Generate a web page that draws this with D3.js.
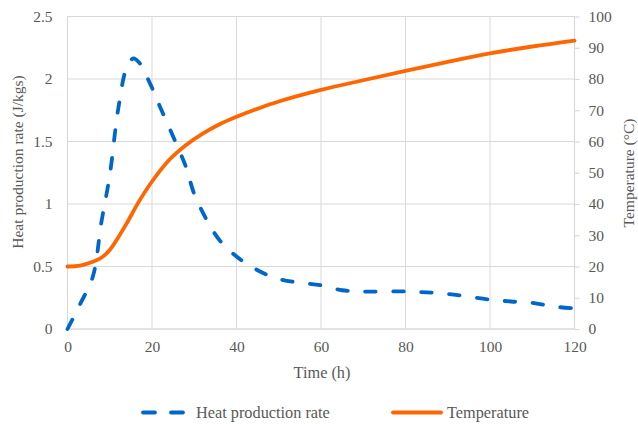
<!DOCTYPE html>
<html><head><meta charset="utf-8">
<script src="https://cdn.jsdelivr.net/npm/d3@7"></script>
<style>body{margin:0;background:#fff}svg{display:block}text{font-family:"Liberation Serif","Times New Roman",serif}</style>
</head><body>
<svg id="c" width="638" height="424"></svg>
<script>
const heatTime = [0, 3, 6, 8, 10, 12, 14, 15.6, 17, 18, 20, 22, 25, 28, 30, 33, 36, 40, 45, 50, 55, 60, 65, 70, 80, 90, 100, 105, 110, 115, 120];
const heatRate = [0, 0.2, 0.42, 0.85, 1.23, 1.76, 2.09, 2.165, 2.13, 2.07, 1.93, 1.77, 1.54, 1.30, 1.08, 0.87, 0.71, 0.58, 0.47, 0.40, 0.37, 0.35, 0.31, 0.30, 0.30, 0.28, 0.235, 0.22, 0.21, 0.18, 0.165];
const tempTime = [0, 3, 6, 8, 10, 12, 14, 17, 20, 24, 28, 32, 36, 40, 45, 50, 60, 70, 80, 90, 100, 110, 120];
const temperature = [20, 20.3, 21.5, 22.8, 25.3, 29.3, 33.8, 41, 47.2, 54, 58.8, 62.5, 65.5, 67.9, 70.5, 72.8, 76.5, 79.6, 82.6, 85.5, 88.2, 90.4, 92.3];
const xTicks = [0, 20, 40, 60, 80, 100, 120];
const yLeftTicks = [0, 0.5, 1, 1.5, 2, 2.5];
const yRightTicks = [0, 10, 20, 30, 40, 50, 60, 70, 80, 90, 100];
const seriesNames = ["Heat production rate", "Temperature"];

const svg = d3.select("#c");
const L = 67.5, R = 574.5, T = 16.5, B = 329;
const x = d3.scaleLinear().domain([0, 120]).range([L, R]);
const yL = d3.scaleLinear().domain([0, 2.5]).range([B, T]);
const yR = d3.scaleLinear().domain([0, 100]).range([B, T]);
const grid = "#d9d9d9", txt = "#595959", font = "'Liberation Serif', 'Times New Roman', serif";
const fsTick = "15.5px", fsTitle = "15.5px", fsBig = "16.3px";
const dash = "10.5,17.5", lw = 3.8;

// grid
svg.append("g").selectAll("line").data(xTicks).join("line")
  .attr("x1", d => x(d)).attr("x2", d => x(d)).attr("y1", T).attr("y2", B)
  .attr("stroke", grid).attr("stroke-width", 1);
svg.append("g").selectAll("line").data(yLeftTicks).join("line")
  .attr("x1", L).attr("x2", R).attr("y1", d => yL(d)).attr("y2", d => yL(d))
  .attr("stroke", grid).attr("stroke-width", 1);

// axes
const ax = svg.append("g").attr("transform", `translate(0,${B})`)
  .call(d3.axisBottom(x).tickValues(xTicks).tickSize(0).tickPadding(12).tickFormat(d3.format("d")));
const ayl = svg.append("g").attr("transform", `translate(${L},0)`)
  .call(d3.axisLeft(yL).tickValues(yLeftTicks).tickSize(0).tickPadding(15).tickFormat(d => String(d)));
const ayr = svg.append("g").attr("transform", `translate(${R},0)`)
  .call(d3.axisRight(yR).tickValues(yRightTicks).tickSize(5).tickPadding(9).tickFormat(d3.format("d")));
[ax, ayl, ayr].forEach(g => {
  g.attr("font-family", null).attr("font-size", null);
  g.select(".domain").attr("stroke", grid).attr("stroke-width", 1.2);
  g.selectAll(".tick line").attr("stroke", grid).attr("stroke-width", 1.2);
  g.selectAll(".tick text").attr("fill", txt).style("font-family", font).style("font-size", fsTick);
});
ax.select(".domain").attr("d", `M${L},0H${R}`);
ayl.select(".domain").attr("d", `M0,${B}V${T}`);
ayr.select(".domain").attr("d", `M0,${B}V${T}`);

// lines
const heatData = heatTime.map((t, i) => [t, heatRate[i]]);
const tempData = tempTime.map((t, i) => [t, temperature[i]]);
svg.append("path").datum(tempData)
  .attr("d", d3.line().x(d => x(d[0])).y(d => yR(d[1])).curve(d3.curveCatmullRom.alpha(0.5)))
  .attr("fill", "none").attr("stroke", "#FF6600").attr("stroke-width", lw).attr("stroke-linecap", "round");
svg.append("path").datum(heatData)
  .attr("d", d3.line().x(d => x(d[0])).y(d => yL(d[1])).curve(d3.curveCatmullRom.alpha(0.5)))
  .attr("fill", "none").attr("stroke", "#0066CC").attr("stroke-width", lw)
  .attr("stroke-dasharray", dash).attr("stroke-linecap", "round");

// titles
svg.append("text").attr("x", 322).attr("y", 378).attr("text-anchor", "middle")
  .attr("fill", txt).style("font-family", font).style("font-size", fsBig).text("Time (h)");
svg.append("text").attr("transform", `translate(23,162) rotate(-90)`).attr("text-anchor", "middle")
  .attr("fill", txt).style("font-family", font).style("font-size", fsTitle).text("Heat production rate (J/kgs)");
svg.append("text").attr("transform", `translate(634,173) rotate(-90)`).attr("text-anchor", "middle")
  .attr("fill", txt).style("font-family", font).style("font-size", fsTitle).text("Temperature (°C)");

// legend
const lg = svg.append("g");
lg.append("line").attr("x1", 143).attr("x2", 184).attr("y1", 412.5).attr("y2", 412.5)
  .attr("stroke", "#0066CC").attr("stroke-width", lw).attr("stroke-dasharray", "12,16").attr("stroke-linecap", "round");
lg.append("text").attr("x", 196).attr("y", 418).attr("fill", txt).style("font-family", font).style("font-size", fsBig).text(seriesNames[0]);
lg.append("line").attr("x1", 393).attr("x2", 441).attr("y1", 412.5).attr("y2", 412.5)
  .attr("stroke", "#FF6600").attr("stroke-width", lw).attr("stroke-linecap", "round");
lg.append("text").attr("x", 447).attr("y", 418).attr("fill", txt).style("font-family", font).style("font-size", fsBig).text(seriesNames[1]);
</script>
</body></html>
